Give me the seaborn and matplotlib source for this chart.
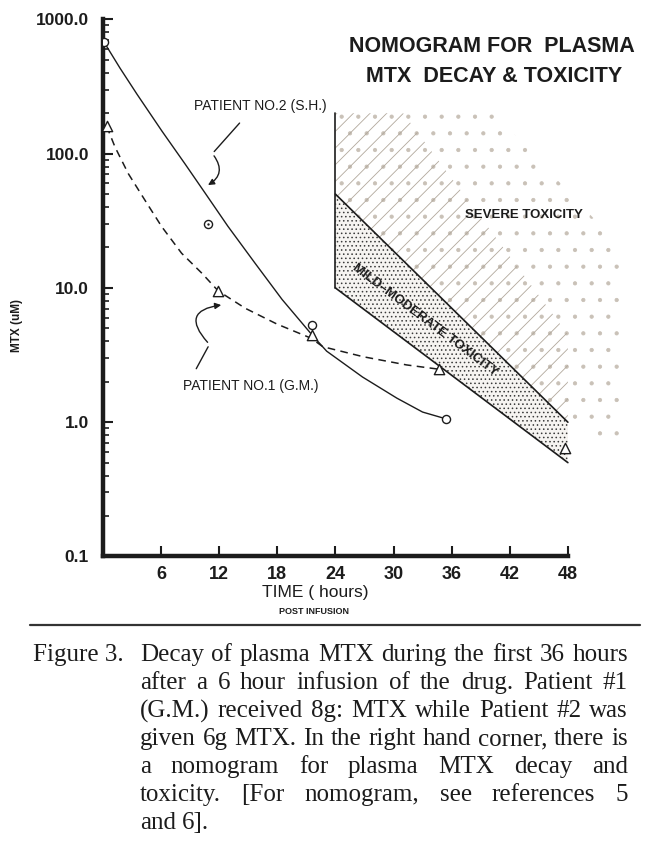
import seaborn as sns
import matplotlib.pyplot as plt
from matplotlib.lines import Line2D
from matplotlib.ticker import FixedLocator, FixedFormatter, LogLocator, NullFormatter
import numpy as np


# -------------------------------------------------
# DATA
# -------------------------------------------------
# measured points
p1_time = [0.4, 11.9, 21.6, 34.7]
p1_mtx = [160, 9.5, 4.46, 2.48]
p2_time = [0.1, 10.85, 21.6, 35.4]
p2_mtx = [678, 29.9, 5.3, 1.06]
lone_time = [47.7]
lone_mtx = [0.64]

# hand drawn curves
p2_curve_t = [0.11, 1.76, 3.52, 6.1, 8.47, 10.54, 12.9, 15.7, 18.5, 21.7, 23.1,
              26.8, 30.35, 33.0, 35.4]
p2_curve_v = [678, 434, 277, 147, 84, 51, 28.8, 15.3, 8.2, 4.37, 3.38,
              2.17, 1.51, 1.19, 1.06]
p1_curve_t = [0.39, 1.25, 2.62, 4.34, 6.07, 8.13, 10.2, 11.9, 14.7, 17.97, 21.5,
              22.7, 26.9, 31.35, 34.7]
p1_curve_v = [160, 112, 71, 45, 28.6, 18.1, 12.9, 9.5, 7.05, 5.38, 4.22,
              3.65, 3.07, 2.67, 2.48]

# nomogram
nomo_t = [24, 48]
nomo_upper = [50, 1.0]
nomo_lower = [10, 0.5]
nomo_top = 200

slash_t = [24, 31, 48]
slash_floor = [50, 16, 1.0]
slash_ceil = [200, 200, 4.5]

dots_t = [24, 24, 40, 53.5, 53.5, 48]
dots_v = [50, 215, 215, 20, 0.62, 1.0]

x_ticks = [6, 12, 18, 24, 30, 36, 42, 48]
y_ticks = [0.1, 1, 10, 100, 1000]
y_labels = ["0.1", "1.0", "10.0", "100.0", "1000.0"]

caption_lines = [
    "Decay of plasma MTX during the first 36 hours",
    "after a 6 hour infusion of the drug. Patient #1",
    "(G.M.) received 8g: MTX while Patient #2 was",
    "given 6g MTX. In the right hand corner, there is",
    "a nomogram for plasma MTX decay and",
    "toxicity. [For nomogram, see references 5",
    "and 6].",
]

INK = "#1c1c1c"
W, H = 650, 841


def fig_xy(x, y):
    return x / W, 1 - y / H


# -------------------------------------------------
# FIGURE
# -------------------------------------------------
sns.set_theme(style="ticks")
plt.rcParams["font.family"] = ["Liberation Sans", "DejaVu Sans"]
plt.rcParams["hatch.linewidth"] = 0.6

fig = plt.figure(figsize=(6.5, 8.41), dpi=100, facecolor="white")
ax = fig.add_axes([0.1583, 0.3383, 0.978 - 0.1583, 0.977 - 0.3383])
ax.set_facecolor("white")
ax.set_yscale("log")
ax.set_xlim(0, 55)
ax.set_ylim(0.1, 1000)

# severe toxicity zone
ax.fill(dots_t, dots_v, facecolor="none", edgecolor="#c9c1b7", hatch=".", lw=0, zorder=1)
ax.fill_between(slash_t, slash_floor, slash_ceil, facecolor="none",
                edgecolor="#b1a89c", hatch="//", lw=0, zorder=1)
# mild-moderate band
ax.fill_between(nomo_t, nomo_lower, nomo_upper, facecolor="#f6f4f1",
                edgecolor="#3a3a3a", hatch="....", lw=0, zorder=1)
sns.lineplot(x=nomo_t, y=nomo_upper, ax=ax, color=INK, lw=1.2, estimator=None)
sns.lineplot(x=nomo_t, y=nomo_lower, ax=ax, color=INK, lw=1.2, estimator=None)
ax.plot([nomo_t[0], nomo_t[0]], [nomo_lower[0], nomo_top], color=INK, lw=1.2)

# patient curves
sns.lineplot(x=p2_curve_t, y=p2_curve_v, ax=ax, color=INK, lw=1.0,
             sort=False, estimator=None)
sns.lineplot(x=p1_curve_t, y=p1_curve_v, ax=ax, color=INK, lw=1.1,
             linestyle=(0, (5, 3.5)), sort=False, estimator=None)

sns.scatterplot(x=p2_time, y=p2_mtx, ax=ax, marker="o", s=34, facecolor="white",
                edgecolor=INK, linewidth=1.0, zorder=4)
sns.scatterplot(x=[p2_time[1]], y=[p2_mtx[1]], ax=ax, marker="o", s=3,
                color=INK, linewidth=0, zorder=5)
sns.scatterplot(x=p1_time + lone_time, y=p1_mtx + lone_mtx, ax=ax, marker="^", s=55,
                facecolor="white", edgecolor=INK, linewidth=1.0, zorder=4)

# wavy pointer arrows
ax.annotate("", xy=(11.3, 100), xytext=(14.3, 175),
            arrowprops=dict(arrowstyle="-", color=INK, lw=1.0))
ax.annotate("", xy=(10.6, 57), xytext=(11.3, 100),
            arrowprops=dict(arrowstyle="-|>", color=INK, lw=1.0, mutation_scale=9,
                            connectionstyle="arc3,rad=-0.6"))
ax.annotate("", xy=(11.0, 3.8), xytext=(9.5, 2.4),
            arrowprops=dict(arrowstyle="-", color=INK, lw=1.0))
ax.annotate("", xy=(12.5, 7.5), xytext=(11.0, 3.8),
            arrowprops=dict(arrowstyle="-|>", color=INK, lw=1.0, mutation_scale=9,
                            connectionstyle="arc3,rad=-1.0"))

# axes styling
for side in ["top", "right"]:
    ax.spines[side].set_visible(False)
for side in ["left", "bottom"]:
    ax.spines[side].set_linewidth(3.2)
    ax.spines[side].set_color(INK)
ax.spines["bottom"].set_bounds(0, 48)
ax.spines["left"].set_bounds(0.1, 1000)

ax.xaxis.set_major_locator(FixedLocator(x_ticks))
ax.set_xticklabels([str(t) for t in x_ticks])
ax.yaxis.set_major_locator(FixedLocator(y_ticks))
ax.yaxis.set_major_formatter(FixedFormatter(y_labels))
ax.yaxis.set_minor_locator(LogLocator(base=10, subs=range(2, 10)))
ax.yaxis.set_minor_formatter(NullFormatter())
ax.tick_params(axis="both", which="major", direction="in", length=7, width=1.5,
               color=INK, labelcolor=INK)
ax.tick_params(axis="y", which="minor", direction="in", length=4, width=1.2, color=INK)
ax.tick_params(axis="x", pad=7, labelsize=13)
ax.tick_params(axis="y", pad=10, labelsize=12.5)
for lab in ax.get_xticklabels() + ax.get_yticklabels():
    lab.set_fontweight("bold")
ax.set_xlabel("")
ax.set_ylabel("")

# texts
fig.text(*fig_xy(492, 47), "NOMOGRAM FOR  PLASMA", ha="center", va="center",
         fontsize=15.5, fontweight="bold", color=INK)
fig.text(*fig_xy(494, 77), "MTX  DECAY & TOXICITY", ha="center", va="center",
         fontsize=15.5, fontweight="bold", color=INK)
fig.text(*fig_xy(260, 106), "PATIENT NO.2 (S.H.)", ha="center", va="center",
         fontsize=10, color=INK)
fig.text(*fig_xy(251, 386), "PATIENT NO.1 (G.M.)", ha="center", va="center",
         fontsize=10, color=INK)
fig.text(*fig_xy(524, 215), "SEVERE TOXICITY", ha="center", va="center",
         fontsize=9.5, fontweight="bold", color=INK)

p0 = ax.transData.transform((nomo_t[0], nomo_lower[0]))
p1 = ax.transData.transform((nomo_t[1], nomo_lower[1]))
band_angle = np.degrees(np.arctan2(p1[1] - p0[1], p1[0] - p0[0]))
ax.text(33.3, 5.8, "MILD–MODERATE TOXICITY", rotation=band_angle,
        rotation_mode="anchor", ha="center", va="center", fontsize=9.5,
        fontweight="bold", color=INK, zorder=6)

fig.text(*fig_xy(17, 325), "MTX (uM)", rotation=90, ha="center", va="center",
         fontsize=8.5, fontweight="bold", color=INK)
fig.text(*fig_xy(315, 592), "TIME ( hours)", ha="center", va="center",
         fontsize=12.5, color=INK)
fig.text(*fig_xy(314, 611), "POST INFUSION", ha="center", va="center",
         fontsize=6.5, fontweight="bold", color=INK)

fig.add_artist(Line2D([30 / W, 640 / W], [1 - 625 / H] * 2,
                      transform=fig.transFigure, lw=1.6, color="#333333"))

# -------------------------------------------------
# CAPTION (justified like the print)
# -------------------------------------------------
serif = ["Liberation Serif", "DejaVu Serif"]
cap_size = 18
renderer = fig.canvas.get_renderer()
fig.text(*fig_xy(33, 655), "Figure 3.", ha="left", va="center", family=serif,
         fontsize=cap_size, color=INK)

x0, x1 = 140, 628
for i, line in enumerate(caption_lines):
    y = 655 + 28 * i
    words = line.split()
    arts = [fig.text(0, 0, w, ha="left", va="center", family=serif,
                     fontsize=cap_size, color=INK) for w in words]
    widths = [a.get_window_extent(renderer).width for a in arts]
    if i < len(caption_lines) - 1 and len(words) > 1:
        gap = (x1 - x0 - sum(widths)) / (len(words) - 1)
    else:
        gap = cap_size * 0.3
    x = x0
    for a, w in zip(arts, widths):
        a.set_position(fig_xy(x, y))
        x += w + gap

fig.savefig("out.png", dpi=100, facecolor="white")
